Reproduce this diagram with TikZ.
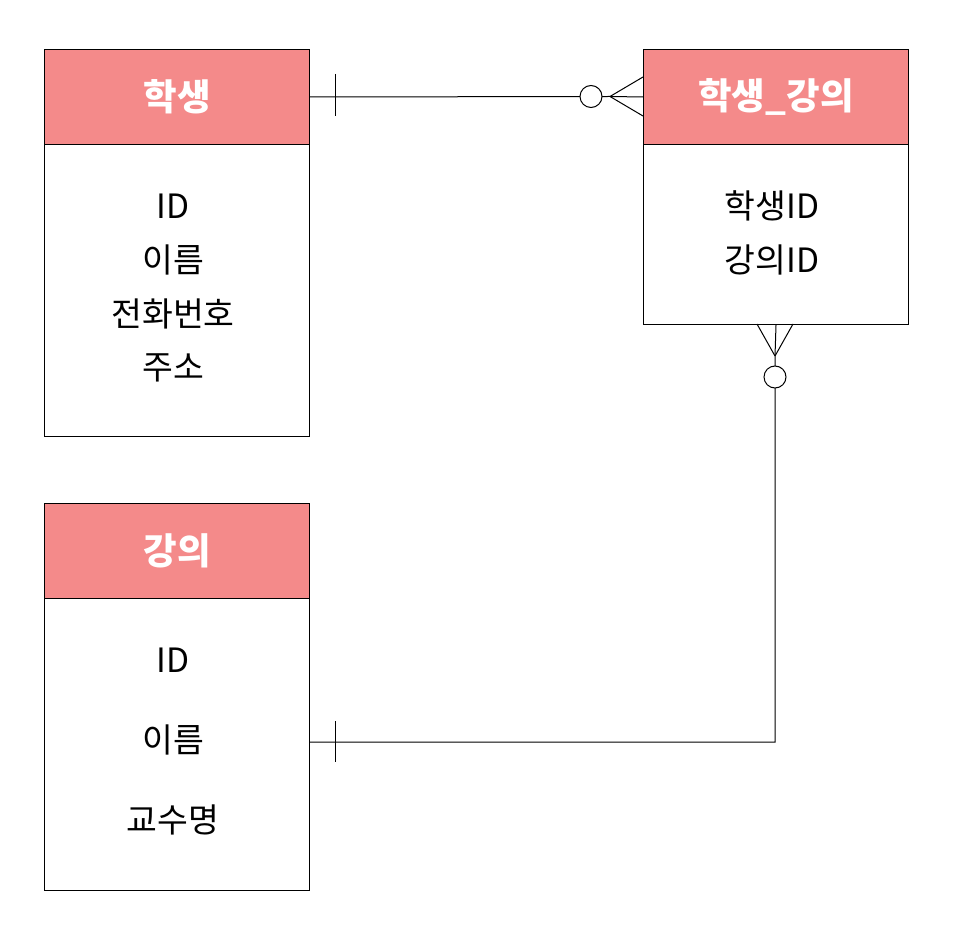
\documentclass[tikz,border=0pt]{standalone}
\usepackage{fontspec}
\setmainfont{Noto Sans CJK KR}
\definecolor{hdrfill}{HTML}{F48A8A}
\begin{document}
\begin{tikzpicture}[x=1pt,y=-1pt,
  box/.style={draw=black,line width=1pt,rectangle,inner sep=0pt,minimum width=265pt},
  hdr/.style={box,fill=hdrfill,minimum height=95pt,text=white,font=\fontsize{36.5}{40}\selectfont\bfseries},
  bodybox/.style={box,fill=white},
  attr/.style={font=\fontsize{33.5}{38}\selectfont,inner sep=0pt},
  conn/.style={line width=1pt,draw=black},
  ring/.style={circle,draw=black,line width=1pt,fill=white,minimum size=22pt,inner sep=0pt}]
\useasboundingbox (0,0) rectangle (953,949);
% entities
\node[hdr,anchor=north west] (s) at (44,49) {학생};
\node[bodybox,anchor=north west,minimum height=292pt] (sb) at (44,144) {};
\node[hdr,anchor=north west] (sg) at (643,49) {학생\_강의};
\node[bodybox,anchor=north west,minimum height=180pt] (sgb) at (643,144) {};
\node[hdr,anchor=north west] (g) at (44,503) {강의};
\node[bodybox,anchor=north west,minimum height=292pt] (gb) at (44,598) {};
% attributes
\node[attr] (a1) at (173,206) {ID};
\node[attr] (a2) at (173,260) {이름};
\node[attr] (a3) at (173,314) {전화번호};
\node[attr] (a4) at (173,368) {주소};
\node[attr] (b1) at (772,206) {학생ID};
\node[attr] (b2) at (772,260) {강의ID};
\node[attr] (c1) at (173,660) {ID};
\node[attr] (c2) at (173,740) {이름};
\node[attr] (c3) at (173,820) {교수명};
% relationship 1: 학생 -- 학생_강의
\coordinate (r1a) at (610,96.5);
\draw[conn] (s.east) -- (r1a);
\draw[conn] (r1a) -- (sg.west);
\draw[conn] (r1a) -- (643,77);
\draw[conn] (r1a) -- (643,116);
\draw[conn] (335,74) -- (335,116);
\node[ring] (o1) at (591,96.5) {};
% relationship 2: 학생_강의 -- 강의
\coordinate (r2a) at (775,356);
\coordinate (r2b) at (775,742);
\coordinate (r2c) at (309,742);
\draw[conn] (sgb.south) -- (r2a) -- (r2b) -- (r2c);
\draw[conn] (r2a) -- (757,324);
\draw[conn] (r2a) -- (793,324);
\draw[conn] (335,721) -- (335,762);
\node[ring] (o2) at (775,377) {};
\end{tikzpicture}
\end{document}
